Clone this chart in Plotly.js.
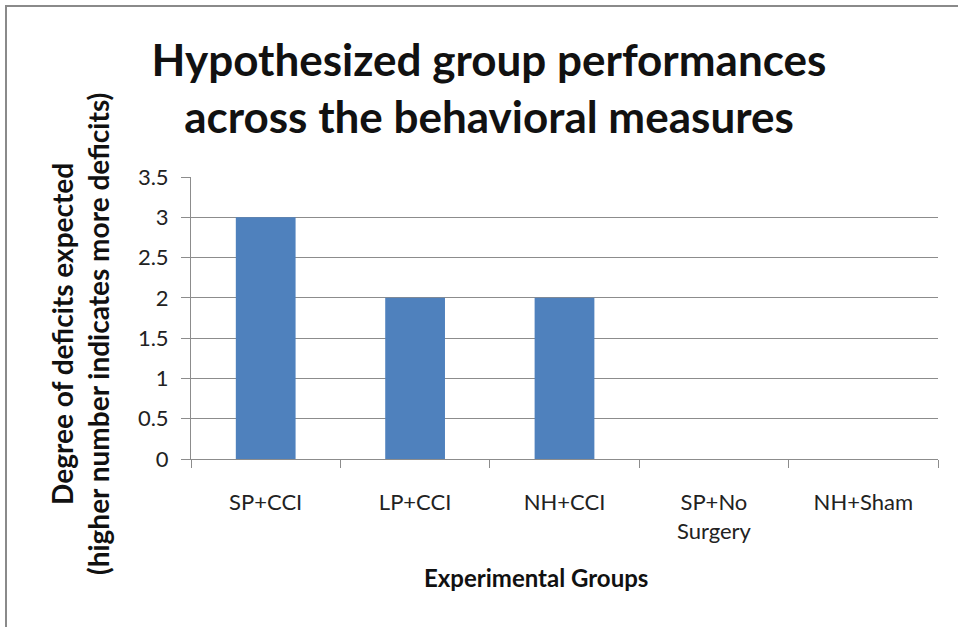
<!DOCTYPE html>
<html>
<head>
<meta charset="utf-8">
<script src="https://cdn.plot.ly/plotly-3.0.1.min.js"></script>
<style>
  html, body { margin: 0; padding: 0; background: #fff; }
  #wrap { position: relative; width: 958px; height: 627px; }
  #chart { width: 958px; height: 627px; }
  #frame { position: absolute; left: 5px; top: 5px; right: 0; bottom: 0;
           border-left: 2px solid #8a8a8a; border-top: 2px solid #8a8a8a;
           pointer-events: none; }
</style>
</head>
<body>
<div id="wrap">
  <div id="chart"></div>
  <div id="frame"></div>
</div>
<script>
const categories = ["SP+CCI", "LP+CCI", "NH+CCI", "SP+No<br>Surgery", "NH+Sham"];
const deficits = [3, 2, 2, 0, 0];
const yTicks = [0, 0.5, 1, 1.5, 2, 2.5, 3, 3.5];
const yTickLabels = ["0", "0.5", "1", "1.5", "2", "2.5", "3", "3.5"];
const titleText = "Hypothesized group performances<br>across the behavioral measures";
const xTitleText = "Experimental Groups";
const yTitleText = "Degree of deficits expected<br>(higher number indicates more deficits)";

const FONT = "Lato, 'Open Sans', sans-serif";
const gridColor = "#8c8c8c";

const trace = {
  type: "bar",
  x: categories,
  y: deficits,
  marker: { color: "#4f81bd" },
  hoverinfo: "x+y"
};

const layout = {
  width: 958,
  height: 627,
  paper_bgcolor: "#ffffff",
  plot_bgcolor: "#ffffff",
  margin: { l: 191, r: 20, t: 177, b: 168 },
  bargap: 0.6,
  showlegend: false,
  font: { family: FONT, color: "#222222" },
  title: {
    text: titleText,
    font: { family: FONT, size: 44, weight: "bold", color: "#111111" },
    x: 489 / 958,
    xanchor: "center",
    xref: "container",
    y: 1 - 76 / 627,
    yanchor: "middle",
    yref: "container"
  },
  xaxis: {
    type: "category",
    tickson: "boundaries",
    ticks: "outside",
    ticklen: 8,
    tickcolor: gridColor,
    tickwidth: 1,
    showline: true,
    linecolor: gridColor,
    linewidth: 1,
    showgrid: false,
    tickfont: { family: FONT, size: 22, color: "#222222" },
    ticklabelstandoff: 24,
    fixedrange: true
  },
  yaxis: {
    range: [0, 3.5],
    tickmode: "array",
    tickvals: yTicks,
    ticktext: yTickLabels,
    ticks: "outside",
    ticklen: 9,
    tickcolor: gridColor,
    tickwidth: 1,
    showline: true,
    linecolor: gridColor,
    linewidth: 1,
    showgrid: true,
    gridcolor: gridColor,
    gridwidth: 1,
    zeroline: false,
    tickfont: { family: FONT, size: 22, color: "#222222" },
    ticklabelstandoff: 8,
    fixedrange: true
  },
  annotations: [
    {
      text: xTitleText,
      xref: "paper", yref: "paper",
      x: (536 - 191) / 747, y: -(577 - 459) / 282,
      xanchor: "center", yanchor: "middle",
      showarrow: false,
      font: { family: FONT, size: 24, weight: "bold", color: "#111111" }
    },
    {
      text: yTitleText,
      xref: "paper", yref: "paper",
      x: -(191 - 80) / 747, y: (459 - 334) / 282,
      xanchor: "center", yanchor: "middle",
      textangle: -90,
      showarrow: false,
      font: { family: FONT, size: 28, weight: "bold", color: "#111111" }
    }
  ]
};

Plotly.newPlot("chart", [trace], layout, { displayModeBar: false, staticPlot: true });
</script>
</body>
</html>
